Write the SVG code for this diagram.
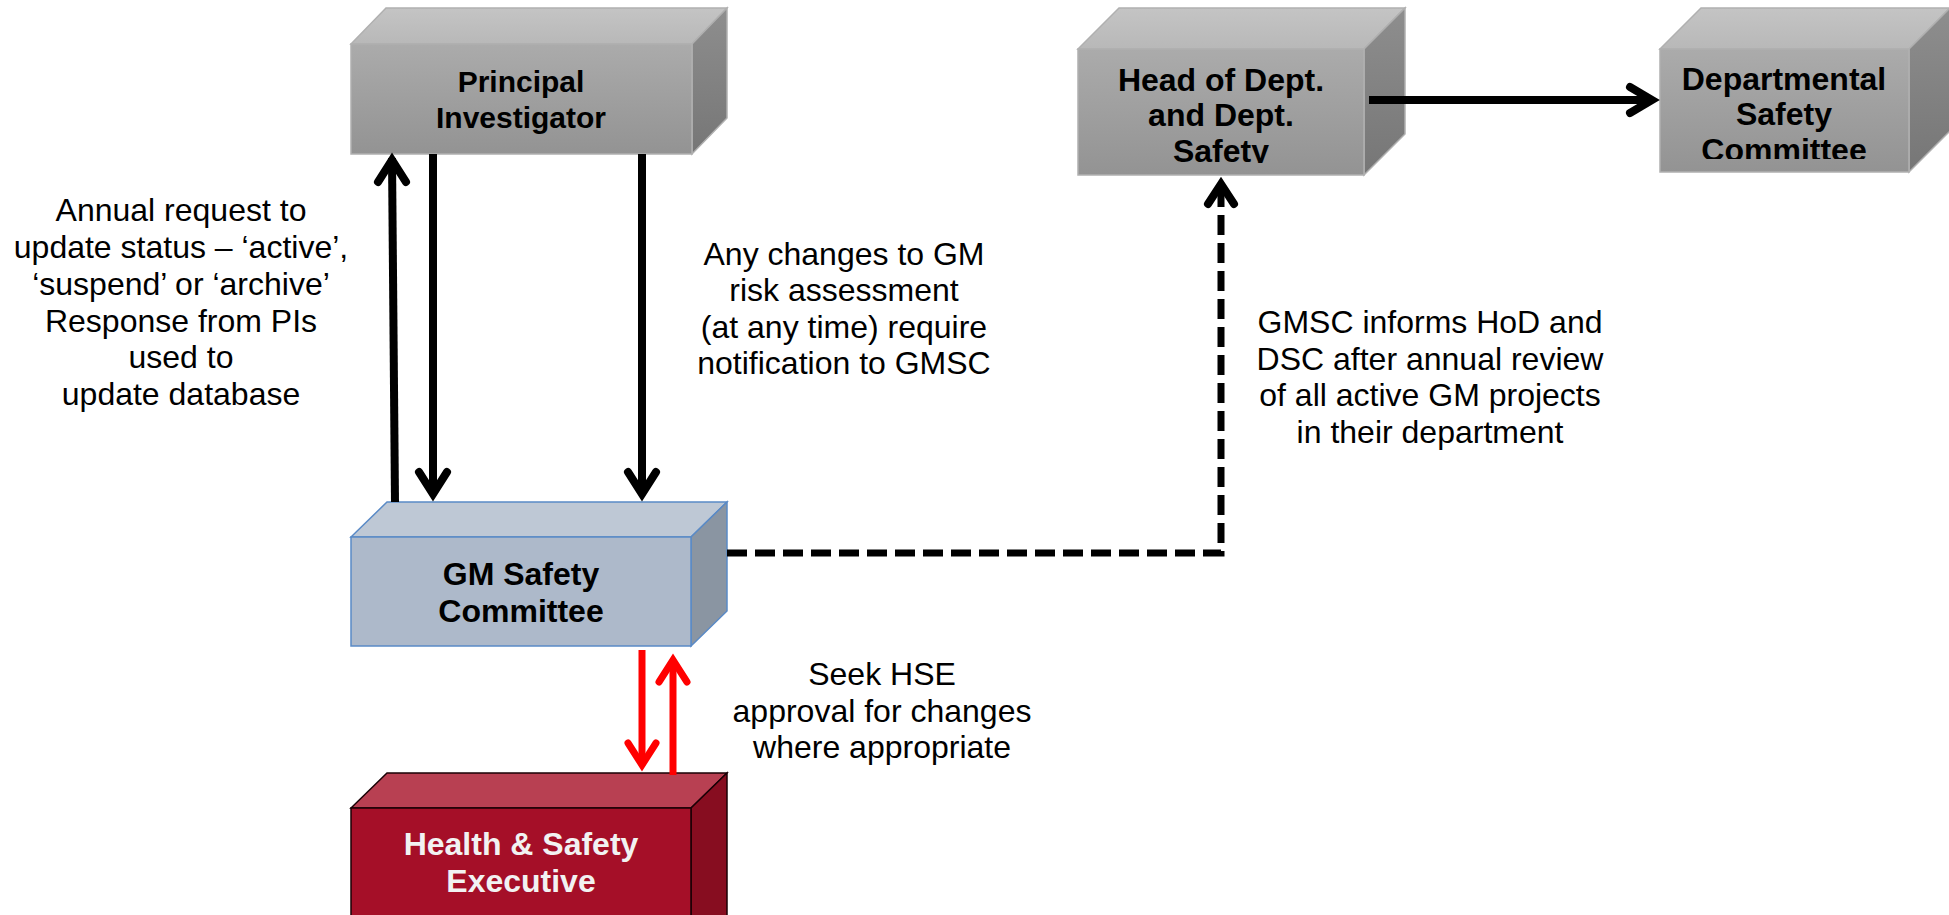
<svg xmlns="http://www.w3.org/2000/svg" width="1949" height="915" viewBox="0 0 1949 915">
<defs>
<linearGradient id="gFront" x1="0" y1="0" x2="0" y2="1">
<stop offset="0" stop-color="#ABABAB"/><stop offset="1" stop-color="#939393"/>
</linearGradient>
<linearGradient id="gTop" x1="0" y1="0" x2="0" y2="1">
<stop offset="0" stop-color="#C4C4C4"/><stop offset="1" stop-color="#B8B8B8"/>
</linearGradient>
<linearGradient id="gSide" x1="0" y1="0" x2="0" y2="1">
<stop offset="0" stop-color="#8E8E8E"/><stop offset="1" stop-color="#767676"/>
</linearGradient>
<clipPath id="clipHead"><rect x="1078" y="49" width="286" height="114"/></clipPath>
<clipPath id="clipDept"><rect x="1660" y="49" width="249" height="110"/></clipPath>
</defs>
<style>
.gray-front{fill:url(#gFront);stroke:#B0B0B0;stroke-width:1.5}
.gray-top{fill:url(#gTop);stroke:#B0B0B0;stroke-width:1.5}
.gray-side{fill:url(#gSide);stroke:#B0B0B0;stroke-width:1.5}
.blue-front{fill:#ADB9CA;stroke:#5A8AC6;stroke-width:1.5}
.blue-top{fill:#BEC8D5;stroke:#5A8AC6;stroke-width:1.5}
.blue-side{fill:#8A95A2;stroke:#5A8AC6;stroke-width:1.5}
.red-front{fill:#A50F28;stroke:#1a0005;stroke-width:1.5}
.red-top{fill:#B84052;stroke:#1a0005;stroke-width:1.5}
.red-side{fill:#870D20;stroke:#1a0005;stroke-width:1.5}
.lbl{font-family:"Liberation Sans",Arial,sans-serif;font-weight:bold;font-size:32px;text-anchor:middle;fill:#000}
.lbl30{font-size:30px}
.lblw{fill:#F2F2F2}
.note{font-family:"Liberation Sans",Arial,sans-serif;font-size:32px;text-anchor:middle;fill:#000}
.blk{fill:none;stroke:#000;stroke-width:8}
.head{fill:none;stroke:#000;stroke-width:8;stroke-linecap:round;stroke-linejoin:miter}
.dash{fill:none;stroke:#000;stroke-width:7;stroke-dasharray:20 8;stroke-linejoin:miter}
.red{fill:none;stroke:#FF0000;stroke-width:7}
.redhead{fill:none;stroke:#FF0000;stroke-width:7;stroke-linecap:round;stroke-linejoin:miter}
</style>

<g id="node-pi">
<polygon class="gray-top" points="351,44 386,8 727,8 692,44"/>
<polygon class="gray-side" points="692,44 727,8 727,118 692,154"/>
<rect class="gray-front" x="351" y="44" width="341" height="110"/>
<text class="lbl lbl30" x="521" y="92">Principal</text>
<text class="lbl lbl30" x="521" y="128">Investigator</text>
</g>

<g id="node-hod">
<polygon class="gray-top" points="1078,49 1119,8 1405,8 1364,49"/>
<polygon class="gray-side" points="1364,49 1405,8 1405,134 1364,175"/>
<rect class="gray-front" x="1078" y="49" width="286" height="126"/>
<g clip-path="url(#clipHead)">
<text class="lbl" x="1221" y="91">Head of Dept.</text>
<text class="lbl" x="1221" y="126">and Dept.</text>
<text class="lbl" x="1221" y="162">Safety</text>
</g>
</g>

<g id="node-dsc">
<polygon class="gray-top" points="1660,49 1701,8 1950,8 1909,49"/>
<polygon class="gray-side" points="1909,49 1950,8 1950,131 1909,172"/>
<rect class="gray-front" x="1660" y="49" width="249" height="123"/>
<g clip-path="url(#clipDept)">
<text class="lbl" x="1784" y="90">Departmental</text>
<text class="lbl" x="1784" y="125">Safety</text>
<text class="lbl" x="1784" y="161">Committee</text>
</g>
</g>

<g id="node-gmsc">
<polygon class="blue-top" points="351,537 387,502 727,502 691,537"/>
<polygon class="blue-side" points="691,537 727,502 727,611 691,646"/>
<rect class="blue-front" x="351" y="537" width="340" height="109"/>
<text class="lbl" x="521" y="585">GM Safety</text>
<text class="lbl" x="521" y="622">Committee</text>
</g>

<g id="node-hse">
<polygon class="red-top" points="351,808 387,773 727,773 691,808"/>
<polygon class="red-side" points="691,808 727,773 727,930 691,930"/>
<rect class="red-front" x="351" y="808" width="340" height="122"/>
<text class="lbl lblw" x="521" y="855">Health &amp; Safety</text>
<text class="lbl lblw" x="521" y="892">Executive</text>
</g>

<g id="connectors">
<line class="blk" x1="395" y1="502" x2="392" y2="158"/>
<polyline class="head" points="378,182 392,160 406,182"/>
<line class="blk" x1="433" y1="154" x2="433" y2="494"/>
<polyline class="head" points="419,472 433,494 447,472"/>
<line class="blk" x1="642" y1="154" x2="642" y2="494"/>
<polyline class="head" points="628,472 642,494 656,472"/>
<path class="dash" d="M727,553 H1221 V186"/>
<polyline class="head" points="1208,204 1221,184 1234,204"/>
<line class="blk" x1="1369" y1="100" x2="1652" y2="100"/>
<polyline class="head" points="1630,87 1652,100 1630,113"/>
<line class="red" x1="642" y1="650" x2="642" y2="765"/>
<polyline class="redhead" points="628,743 642,765 656,743"/>
<line class="red" x1="673" y1="775" x2="673" y2="660"/>
<polyline class="redhead" points="659,682 673,660 687,682"/>
</g>

<g id="labels">
<text class="note" x="181" y="221">Annual request to</text>
<text class="note" x="181" y="258">update status – ‘active’,</text>
<text class="note" x="181" y="295">‘suspend’ or ‘archive’</text>
<text class="note" x="181" y="332">Response from PIs</text>
<text class="note" x="181" y="368">used to</text>
<text class="note" x="181" y="405">update database</text>
<text class="note" x="844" y="265">Any changes to GM</text>
<text class="note" x="844" y="301">risk assessment</text>
<text class="note" x="844" y="338">(at any time) require</text>
<text class="note" x="844" y="374">notification to GMSC</text>
<text class="note" x="1430" y="333">GMSC informs HoD and</text>
<text class="note" x="1430" y="370">DSC after annual review</text>
<text class="note" x="1430" y="406">of all active GM projects</text>
<text class="note" x="1430" y="443">in their department</text>
<text class="note" x="882" y="685">Seek HSE</text>
<text class="note" x="882" y="722">approval for changes</text>
<text class="note" x="882" y="758">where appropriate</text>
</g>
</svg>
